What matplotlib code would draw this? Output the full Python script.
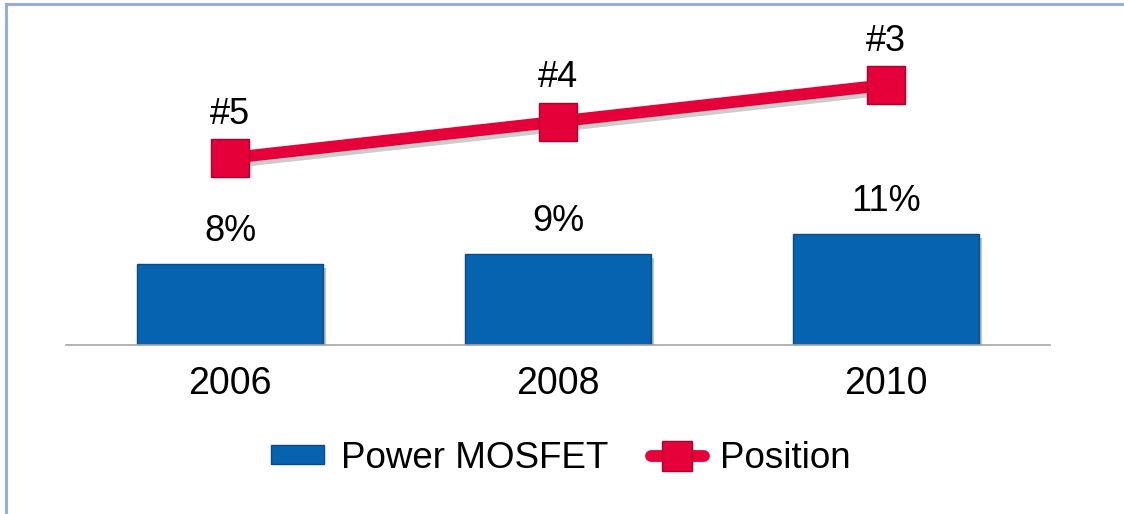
import matplotlib
matplotlib.use("Agg")
import matplotlib.pyplot as plt
import matplotlib.patheffects as pe
from matplotlib.lines import Line2D
from matplotlib.patches import Patch

years = ["2006", "2008", "2010"]
share = [8, 9, 11]
share_labels = ["8%", "9%", "11%"]
rank = [5, 4, 3]
rank_labels = ["#5", "#4", "#3"]

plt.rcParams["font.family"] = ["Liberation Sans", "DejaVu Sans"]

blue = "#0563B0"
red = "#E5003A"

fig = plt.figure(figsize=(11.24, 5.14), dpi=100)
ax = fig.add_axes([66 / 1124, 1 - 345 / 514, 984 / 1124, 325 / 514])
x = range(len(years))

shadow = [pe.SimplePatchShadow(offset=(2, -3), alpha=0.25), pe.Normal()]
bars = ax.bar(x, share, width=0.57, color=blue, edgecolor="#0A4A85",
              linewidth=1.0, zorder=2)
for b in bars:
    b.set_path_effects(shadow)
for xi, v, lab in zip(x, share, share_labels):
    ax.annotate(lab, (xi, v), xytext=(0, 11), textcoords="offset points",
                ha="center", va="bottom", fontsize=26)

ax.set_xlim(-0.5, 2.5)
ax.set_ylim(0, 325 / 10.1)
ax.set_xticks(list(x))
ax.set_xticklabels(years, fontsize=27)
ax.tick_params(axis="x", length=0, pad=15)
ax.set_yticks([])
for s in ["top", "right", "left"]:
    ax.spines[s].set_visible(False)
ax.spines["bottom"].set_color("#A6A6A6")
ax.spines["bottom"].set_linewidth(1.2)

ax2 = ax.twinx()
ax2.plot(list(x), rank, color=red, linewidth=8.5, solid_capstyle="butt", zorder=3,
         path_effects=[pe.SimpleLineShadow(offset=(2, -3), alpha=0.2), pe.Normal()])
ax2.plot(list(x), rank, linestyle="none", marker="s", markersize=27,
         markerfacecolor=red, markeredgecolor="#B0002A", markeredgewidth=1.0, zorder=4)
for xi, v, lab in zip(x, rank, rank_labels):
    ax2.annotate(lab, (xi, v), xytext=(0, 19), textcoords="offset points",
                 ha="center", va="bottom", fontsize=26)
ax2.set_ylim(10.12, 1.22)
ax2.set_yticks([])
for s in ax2.spines.values():
    s.set_visible(False)

handles = [
    Patch(facecolor=blue, edgecolor="#0A4A85"),
    Line2D([], [], color=red, linewidth=8.5, marker="s", markersize=21,
           markerfacecolor=red, markeredgecolor="#B0002A", solid_capstyle="round"),
]
fig.legend(handles, ["Power MOSFET", "Position"], loc="center",
           bbox_to_anchor=(561 / 1124, 1 - 458 / 514), ncol=2, frameon=False,
           fontsize=26.5, handlelength=1.45, handleheight=0.4, handletextpad=0.45,
           columnspacing=1.15)

# light blue frame along top and left edges
fig.add_artist(Line2D([6 / 1124, 6 / 1124], [0, 1 - 4 / 514], transform=fig.transFigure,
                      color="#8EAADB", linewidth=2))
fig.add_artist(Line2D([6 / 1124, 1], [1 - 4 / 514, 1 - 4 / 514], transform=fig.transFigure,
                      color="#8EAADB", linewidth=2))

fig.savefig("out.png", dpi=100)
